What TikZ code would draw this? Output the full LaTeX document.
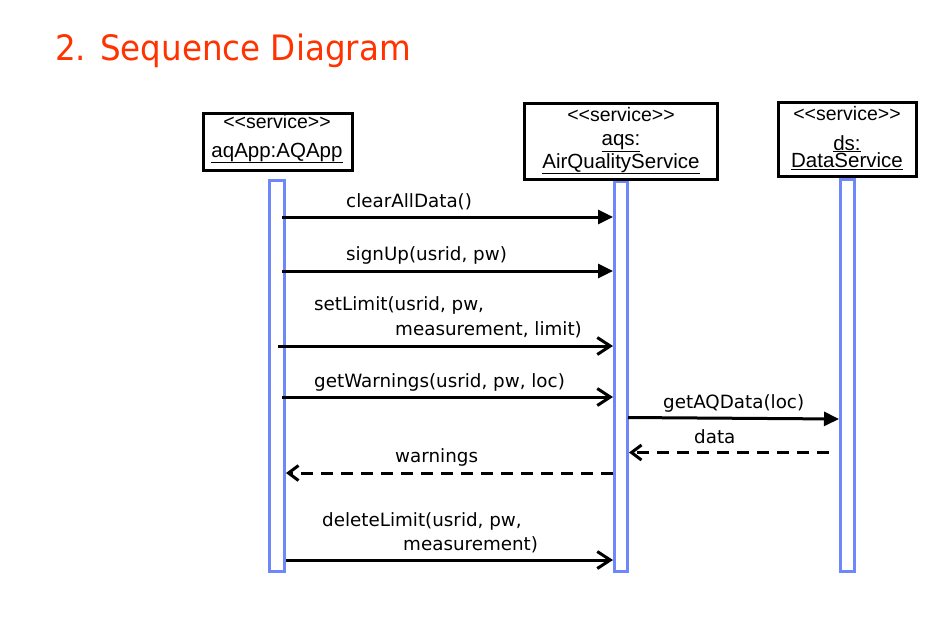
\documentclass[tikz,border=0pt]{standalone}
\usepackage{fontspec}
\setmainfont{DejaVu Sans}
\newfontfamily\arialfont{Liberation Sans}
\newfontfamily\titlefont[FakeStretch=0.93]{DejaVu Sans}
\usetikzlibrary{arrows.meta}
\definecolor{lifeblue}{RGB}{110,135,250}
\definecolor{titlered}{RGB}{255,51,0}
\newcommand\tightlines{\lineskiplimit=-20pt\lineskip=0pt\relax}
\begin{document}
\begin{tikzpicture}[x=1pt,y=-1pt,
  objbox/.style={draw=black,line width=3pt,fill=white,inner sep=0pt},
  lifebar/.style={draw=lifeblue,line width=3pt,fill=white,inner sep=0pt},
  stereo/.style={anchor=base,inner sep=0pt,font=\arialfont\fontsize{19.5}{22}\selectfont},
  objname/.style={anchor=base,inner sep=0pt,align=center,
    font=\arialfont\fontsize{20.5}{17.5}\selectfont},
  msglabel/.style={anchor=base west,inner sep=0pt,font=\fontsize{18.3}{21}\selectfont},
  callmsg/.style={line width=3pt,-{Triangle[length=15pt,width=14pt]}},
  callopen/.style={line width=3pt,-{Straight Barb[length=13pt,width=17pt]}},
  retmsg/.style={line width=3pt,dash pattern=on 12pt off 8pt,-{Straight Barb[length=10pt,width=15pt]}}
]
\useasboundingbox (0,0) rectangle (937,638);
\fill[white] (0,0) rectangle (937,638);

% title
\node[anchor=base west,inner sep=0pt,text=titlered,font=\titlefont\fontsize{35}{40}\selectfont] (title) at (55,60) {2. Sequence Diagram};

% lifelines (activation bars)
\node[lifebar,minimum width=15pt,minimum height=391pt] (bar1) at (277,376) {};
\node[lifebar,minimum width=13pt,minimum height=390pt] (bar2) at (621,376.5) {};
\node[lifebar,minimum width=14pt,minimum height=392pt] (bar3) at (847.5,375.5) {};

% object boxes
\node[objbox,minimum width=149pt,minimum height=57pt] (box1) at (278,142) {};
\node[objbox,minimum width=193pt,minimum height=76pt] (box2) at (621,141.5) {};
\node[objbox,minimum width=138pt,minimum height=74pt] (box3) at (847.5,139.5) {};

\node[stereo] (st1) at (277,128) {<{}<service>{}>};
\node[objname] (nm1) at (277,157) {\underline{aqApp:AQApp}};

\node[stereo] (st2) at (621,121) {<{}<service>{}>};
\node[objname] (nm2) at (621,168) {\tightlines\underline{aqs:}\\\underline{AirQualityService}};

\node[stereo] (st3) at (847,120) {<{}<service>{}>};
\node[objname] (nm3) at (847,167.5) {\tightlines\underline{ds:}\\\underline{DataService}};

% message end points
\coordinate (m1s) at (282,217);   \coordinate (m1e) at (613,217);
\coordinate (m2s) at (282,271);   \coordinate (m2e) at (613,271);
\coordinate (m3s) at (278,346);   \coordinate (m3e) at (613,346);
\coordinate (m4s) at (282,397);   \coordinate (m4e) at (613,397);
\coordinate (m5s) at (628,417.5); \coordinate (m5e) at (839,419);
\coordinate (m6s) at (829,452.5); \coordinate (m6e) at (629,452.5);
\coordinate (m7s) at (613,473);   \coordinate (m7e) at (286,473);
\coordinate (m8s) at (286,560);   \coordinate (m8e) at (613,560);

% messages
\draw[callmsg] (m1s) -- (m1e);
\draw[callmsg] (m2s) -- (m2e);
\draw[callopen] (m3s) -- (m3e);
\draw[callopen] (m4s) -- (m4e);
\draw[callmsg] (m5s) -- (m5e);
\draw[retmsg] (m6s) -- (m6e);
\draw[retmsg] (m7s) -- (m7e);
\draw[callopen] (m8s) -- (m8e);

% labels
\node[msglabel] (l1) at (346,207) {clearAllData()};
\node[msglabel] (l2) at (346,260) {signUp(usrid, pw)};
\node[msglabel] (l3a) at (314,310) {setLimit(usrid, pw,};
\node[msglabel] (l3b) at (395,335) {measurement, limit)};
\node[msglabel] (l4) at (314,387) {getWarnings(usrid, pw, loc)};
\node[msglabel] (l5) at (663,408) {getAQData(loc)};
\node[msglabel] (l6) at (694,443) {data};
\node[msglabel] (l7) at (395,462) {warnings};
\node[msglabel] (l8a) at (322,526) {deleteLimit(usrid, pw,};
\node[msglabel] (l8b) at (403,550) {measurement)};
\end{tikzpicture}
\end{document}
